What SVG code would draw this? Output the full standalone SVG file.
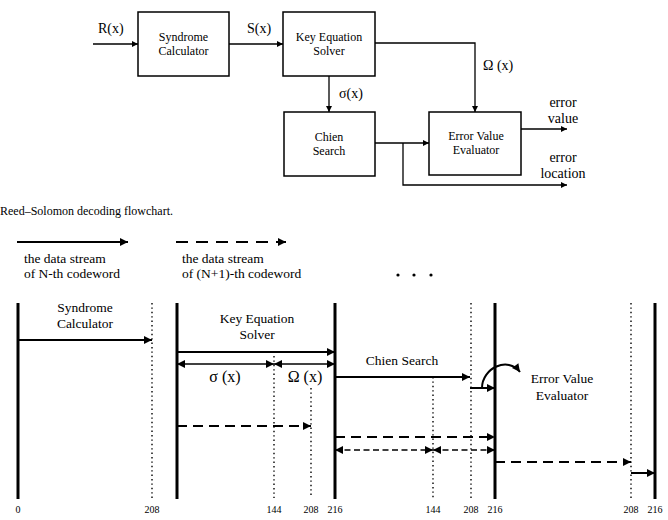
<svg xmlns="http://www.w3.org/2000/svg" width="668" height="520" viewBox="0 0 668 520">
<defs>
<style>
text{font-family:"Liberation Serif","Times New Roman",serif;fill:#000}
.t12{font-size:12px}
.t14{font-size:14px}
.t135{font-size:13.5px}
.t16{font-size:16px}
.t10{font-size:10px}
.box{fill:#fff;stroke:#000;stroke-width:1.5}
.thin{fill:none;stroke:#000;stroke-width:1.3}
.med{fill:none;stroke:#000;stroke-width:2}
.dash{fill:none;stroke:#000;stroke-width:2.2;stroke-dasharray:10 6}
.ldash{fill:none;stroke:#000;stroke-width:2.2;stroke-dasharray:12 8}
.fdash{fill:none;stroke:#000;stroke-width:1.6;stroke-dasharray:6 3.5}
.thick{fill:none;stroke:#000;stroke-width:3}
.dot{fill:none;stroke:#000;stroke-width:1.4;stroke-dasharray:1.4 3}
.m{text-anchor:middle}
</style>
<marker id="as" viewBox="0 0 10 10" refX="10" refY="5" markerUnits="userSpaceOnUse" markerWidth="7" markerHeight="6" orient="auto"><path d="M0,0L10,5L0,10z" fill="#000"/></marker>
<marker id="ab" viewBox="0 0 10 10" refX="10" refY="5" markerUnits="userSpaceOnUse" markerWidth="10" markerHeight="8" orient="auto-start-reverse"><path d="M0,0L10,5L0,10z" fill="#000"/></marker>
</defs>

<!-- Top flowchart -->
<g id="syndrome-calculator">
<rect class="box" x="138" y="12" width="91" height="64"/>
<text class="t12 m" x="183.5" y="41">Syndrome</text>
<text class="t12 m" x="183.5" y="55">Calculator</text>
</g>
<g id="key-equation-solver">
<rect class="box" x="283" y="12" width="92" height="64"/>
<text class="t12 m" x="329" y="41">Key Equation</text>
<text class="t12 m" x="329" y="55">Solver</text>
</g>
<g id="chien-search">
<rect class="box" x="284" y="112" width="91" height="64"/>
<text class="t12 m" x="329" y="141">Chien</text>
<text class="t12 m" x="329" y="155">Search</text>
</g>
<g id="error-value-evaluator">
<rect class="box" x="429" y="112" width="92" height="63"/>
<text class="t12 m" x="476" y="140">Error Value</text>
<text class="t12 m" x="476" y="154">Evaluator</text>
</g>
<g id="connectors">
<path class="thin" d="M93,44H138" marker-end="url(#as)"/>
<path class="thin" d="M229,44H283" marker-end="url(#as)"/>
<path class="thin" d="M375,43H475V112" marker-end="url(#as)"/>
<path class="thin" d="M329,76V112" marker-end="url(#as)"/>
<path class="thin" d="M375,143H429" marker-end="url(#as)"/>
<path class="thin" d="M403,143V185H567" marker-end="url(#as)"/>
<path class="thin" d="M521,129H567" marker-end="url(#as)"/>
</g>
<g id="labels">
<text class="t14" x="98" y="33">R(x)</text>
<text class="t14" x="247" y="33">S(x)</text>
<text class="t14" x="339" y="98">σ(x)</text>
<text class="t14" x="483" y="70">Ω (x)</text>
<text class="t14 m" x="563" y="107">error</text>
<text class="t14 m" x="563" y="123">value</text>
<text class="t14 m" x="563" y="162">error</text>
<text class="t14 m" x="563" y="178">location</text>
</g>

<text class="t12" x="0" y="215">Reed–Solomon decoding flowchart.</text>

<!-- Legend -->
<g id="legend">
<path class="med" d="M17,242H128" marker-end="url(#ab)"/>
<path class="ldash" d="M176,242H286" marker-end="url(#ab)"/>
<text class="t135" x="24" y="263">the data stream</text>
<text class="t135" x="24" y="278">of N-th codeword</text>
<text class="t135" x="182" y="263">the data stream</text>
<text class="t135" x="182" y="278">of (N+1)-th codeword</text>
<circle cx="398" cy="275" r="1.6"/>
<circle cx="414" cy="275" r="1.6"/>
<circle cx="431" cy="275" r="1.6"/>
</g>

<!-- Timeline -->
<g id="timeline-lines">
<path class="thick" d="M18,303V499M177,303V499M335,303V499M495,303V499M655,303V499"/>
<path class="dot" d="M152,303V498M274,356V498M311,388V498M433,377V498M471,303V498M631,303V498"/>
</g>
<g id="timeline-connectors">
<path class="med" d="M18,340H152" marker-end="url(#ab)"/>
<path class="med" d="M177,352H335" marker-end="url(#ab)"/>
<path class="thin" d="M177,364H274" marker-start="url(#ab)" marker-end="url(#ab)"/>
<path class="thin" d="M274,364H335" marker-start="url(#ab)" marker-end="url(#ab)"/>
<path class="med" d="M335,377H470" marker-end="url(#ab)"/>
<path class="med" d="M470,388H495" marker-end="url(#ab)"/>
<path class="med" d="M482,388C482,368 508,356 520,372" marker-end="url(#ab)"/>
<path class="dash" d="M177,426H311" marker-end="url(#ab)"/>
<path class="dash" d="M335,437H495" marker-end="url(#ab)"/>
<path class="fdash" d="M335,450H433" marker-start="url(#ab)" marker-end="url(#ab)"/>
<path class="fdash" d="M433,450H495" marker-start="url(#ab)" marker-end="url(#ab)"/>
<path class="dash" d="M495,462H631" marker-end="url(#ab)"/>
<path class="med" d="M631,473H655" marker-end="url(#ab)"/>
</g>
<g id="timeline-labels">
<text class="t135 m" x="85" y="312">Syndrome</text>
<text class="t135 m" x="85" y="328">Calculator</text>
<text class="t135 m" x="257" y="323">Key Equation</text>
<text class="t135 m" x="257" y="339">Solver</text>
<text class="t16 m" x="225" y="382">σ (x)</text>
<text class="t16 m" x="305" y="382">Ω (x)</text>
<text class="t135 m" x="402" y="365">Chien Search</text>
<text class="t135 m" x="562" y="383">Error Value</text>
<text class="t135 m" x="562" y="400">Evaluator</text>
<text class="t10 m" x="18" y="513">0</text>
<text class="t10 m" x="152" y="513">208</text>
<text class="t10 m" x="274" y="513">144</text>
<text class="t10 m" x="311" y="513">208</text>
<text class="t10 m" x="335" y="513">216</text>
<text class="t10 m" x="433" y="513">144</text>
<text class="t10 m" x="471" y="513">208</text>
<text class="t10 m" x="495" y="513">216</text>
<text class="t10 m" x="631" y="513">208</text>
<text class="t10 m" x="655" y="513">216</text>
</g>
</svg>
